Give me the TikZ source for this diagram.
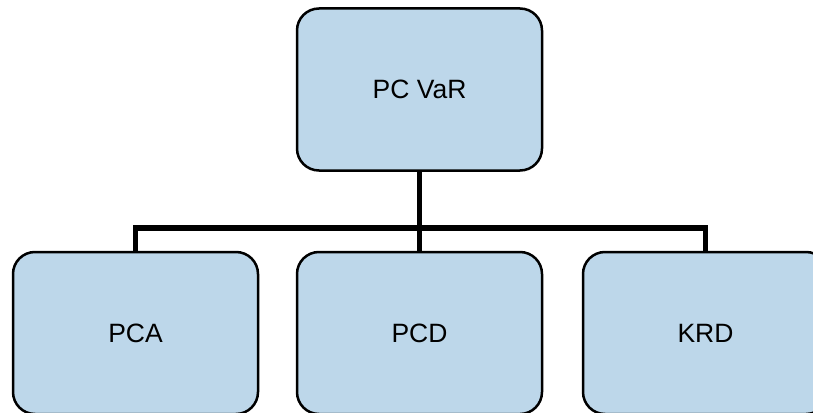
\documentclass[tikz,border=0pt]{standalone}
\usepackage{fontspec}
\setmainfont{Liberation Sans}
\definecolor{boxfill}{RGB}{189,215,234}
\begin{document}
\begin{tikzpicture}[x=1pt,y=-1pt,
  unitbox/.style={draw=black, line width=2.5pt, fill=boxfill, rounded corners=22pt,
    minimum width=245pt, minimum height=162pt, inner sep=0pt,
    font=\fontsize{26.5pt}{31pt}\selectfont},
  busline/.style={draw=black, line width=5.5pt}]
  \clip (0,0) rectangle (813,412);
  \useasboundingbox (0,0) rectangle (813,412);
  % tree layout: one parent box above three child boxes
  \node[unitbox] (top) at (419.5,89.5) {PC VaR};
  \node[unitbox] (pca) at (135.5,333) {PCA};
  \node[unitbox] (pcd) at (419.5,333) {PCD};
  \node[unitbox] (krd) at (705.5,333) {KRD};
  % horizontal bus joining the children
  \coordinate (bus) at (419.5,228);
  \path[busline] (top.south) -- (bus);
  \path[busline] (pca.north) |- (bus) -| (krd.north);
  \path[busline] (bus) -- (pcd.north);
\end{tikzpicture}
\end{document}
